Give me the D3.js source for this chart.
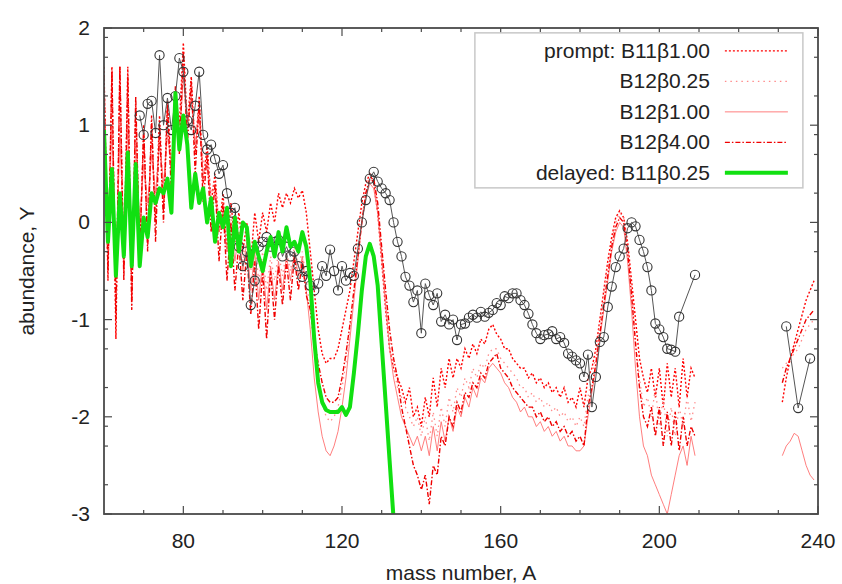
<!DOCTYPE html>
<html lang="en">

<head>
	<meta charset="UTF-8">
	<title>abundance vs mass number</title>
	<script src="https://cdn.jsdelivr.net/npm/d3@7"></script>
	<style>
		body { margin: 0; background: #fff; }
		text { font-family: "Liberation Sans", Arial, sans-serif; fill: #222; }
	</style>
</head>

<body>
	<svg id="viz"></svg>

	<script>
		// Data ---
		const modelStart = 60;   // A of the first entry of every model array
		const tailStart = 231;   // A of the first entry of the tail arrays
		const xTickLabels = [80, 120, 160, 200, 240];
		const yTickLabels = [-3, -2, -1, 0, 1, 2];

		const promptB11b100 = [
			1.6, -0.6, 1.6, -1.2, 1.6, -0.5, 1.6, -0.8, 1.2, -0.3,
			0.9, -0.2, 1.0, 0.0, 1.1, 0.1, 1.25, 0.5, 1.3, 1.0,
			1.85, 1.0, 1.5, 0.7, 1.3, 0.4, 0.8, 0.2, 0.5, -0.1,
			0.3, -0.3, 0.2, -0.2, 0.1, -0.3, 0.0, -0.4, 0.1, -0.2,
			0.1, -0.1, 0.2, 0.0, 0.3, 0.15, 0.3, 0.2, 0.35, 0.25,
			0.33, 0.1, -0.3, -0.7, -1.1, -1.35, -1.45, -1.4, -1.4, -1.3,
			-1.1, -0.9, -0.7, -0.4, -0.1, 0.2, 0.4, 0.5, 0.4, 0.1,
			-0.4, -0.9, -1.3, -1.5, -1.6, -1.7, -1.85, -1.7, -2.0, -1.9,
			-2.1, -1.8, -2.0, -1.6, -1.9, -1.5, -1.7, -1.4, -1.6, -1.4,
			-1.5, -1.3, -1.4, -1.25, -1.35, -1.2, -1.25, -1.1, -1.05, -1.15,
			-1.2, -1.3, -1.3, -1.4, -1.45, -1.5, -1.5, -1.6, -1.55, -1.65,
			-1.6, -1.7, -1.65, -1.75, -1.7, -1.8, -1.7, -1.85, -1.8, -1.9,
			-1.7, -1.9, -1.6, -1.5, -1.3, -1.0, -0.7, -0.4, -0.15, 0.05,
			0.12, 0.05, -0.2, -0.6, -1.0, -1.4, -1.6, -1.75, -1.5, -1.8,
			-1.5, -1.9, -1.45, -1.8, -1.5, -1.9, -1.4, -1.8, -1.5, -1.6
		];
		const promptB12b025 = [
			1.2, -0.3, 1.3, -0.8, 1.2, -0.4, 1.3, -0.5, 1.0, -0.2,
			0.7, 0.1, 0.8, 0.2, 0.9, 0.3, 1.0, 0.6, 1.2, 0.9,
			1.6, 1.1, 1.4, 0.9, 1.2, 0.6, 0.7, 0.3, 0.4, 0.0,
			0.2, -0.2, 0.1, -0.3, 0.0, -0.4, -0.1, -0.5, -0.2, -0.6,
			-0.3, -0.7, -0.35, -0.6, -0.3, -0.55, -0.3, -0.5, -0.25, -0.45,
			-0.3, -0.6, -0.9, -1.3, -1.6, -1.85, -2.0, -2.05, -2.0, -1.9,
			-1.7, -1.45, -1.1, -0.7, -0.3, 0.05, 0.3, 0.45, 0.4, 0.15,
			-0.3, -0.8, -1.2, -1.5, -1.7, -1.8, -1.9, -2.0, -2.1, -2.0,
			-2.2, -2.0, -2.25, -1.95, -2.2, -1.9, -2.1, -1.8, -1.95, -1.7,
			-1.8, -1.6, -1.7, -1.5, -1.6, -1.45, -1.5, -1.35, -1.3, -1.3,
			-1.4, -1.45, -1.5, -1.55, -1.6, -1.7, -1.7, -1.8, -1.75, -1.85,
			-1.8, -1.9, -1.85, -1.95, -1.9, -2.0, -1.95, -2.05, -2.0, -2.1,
			-2.0, -2.1, -1.8, -1.6, -1.35, -1.05, -0.75, -0.45, -0.2, 0.0,
			0.1, 0.05, -0.3, -0.7, -1.2, -1.6, -1.9, -1.8, -2.0, -1.7,
			-2.1, -1.8, -2.2, -1.9, -2.2, -1.9, -2.1, -1.8, -2.05, -1.85
		];
		const promptB12b100 = [
			0.8, -0.2, 1.0, -0.6, 0.9, -0.2, 1.0, -0.3, 0.8, 0.0,
			0.6, 0.2, 0.7, 0.3, 0.8, 0.4, 0.9, 0.6, 1.1, 0.8,
			1.5, 1.0, 1.3, 0.8, 1.1, 0.5, 0.6, 0.2, 0.3, -0.1,
			0.1, -0.3, 0.0, -0.4, -0.1, -0.5, -0.2, -0.7, -0.3, -0.8,
			-0.4, -0.9, -0.45, -0.8, -0.4, -0.7, -0.35, -0.6, -0.3, -0.55,
			-0.35, -0.7, -1.1, -1.6, -1.95, -2.2, -2.35, -2.4, -2.3, -2.15,
			-1.9, -1.6, -1.2, -0.8, -0.4, 0.0, 0.25, 0.4, 0.35, 0.1,
			-0.35, -0.85, -1.3, -1.6, -1.8, -2.0, -2.1, -2.2, -2.3, -2.2,
			-2.35, -2.2, -2.4, -2.1, -2.35, -2.05, -2.25, -2.0, -2.15, -1.9,
			-2.0, -1.8, -1.9, -1.7, -1.8, -1.6, -1.65, -1.5, -1.45, -1.5,
			-1.55, -1.65, -1.7, -1.8, -1.85, -1.95, -1.9, -2.0, -2.0, -2.1,
			-2.05, -2.15, -2.1, -2.2, -2.15, -2.25, -2.2, -2.3, -2.3, -2.35,
			-2.35, -2.3, -2.0, -1.75, -1.5, -1.2, -0.9, -0.6, -0.3, -0.1,
			0.0, -0.05, -0.4, -0.9, -1.5, -2.0, -2.3, -2.4, -2.6, -2.7,
			-2.8, -2.9, -3.0, -2.8, -2.6, -2.4, -2.3, -2.5, -2.2, -2.4
		];
		const promptB12b400 = [
			1.5, -0.5, 1.55, -1.0, 1.6, -0.6, 1.5, -0.9, 1.3, -0.4,
			1.0, -0.3, 1.1, -0.2, 1.0, 0.0, 1.2, 0.3, 1.4, 0.7,
			1.75, 0.8, 1.45, 0.5, 1.25, 0.2, 0.7, -0.1, 0.4, -0.4,
			0.2, -0.6, 0.0, -0.7, -0.2, -0.8, -0.3, -0.95, -0.4, -1.1,
			-0.5, -1.2, -0.5, -1.0, -0.45, -0.85, -0.4, -0.8, -0.35, -0.7,
			-0.4, -0.75, -0.9, -1.2, -1.45, -1.65, -1.8, -1.85, -1.85, -1.8,
			-1.6, -1.35, -1.05, -0.7, -0.35, 0.0, 0.3, 0.45, 0.45, 0.2,
			-0.25, -0.7, -1.1, -1.4, -1.6, -1.9, -2.1, -2.3, -2.5, -2.6,
			-2.75, -2.6, -2.9, -2.5, -2.6, -2.2, -2.3, -2.0, -2.1, -1.85,
			-1.95, -1.75, -1.8, -1.65, -1.7, -1.55, -1.6, -1.45, -1.4, -1.35,
			-1.5, -1.55, -1.6, -1.7, -1.75, -1.8, -1.85, -1.9, -1.9, -2.0,
			-1.95, -2.05, -2.0, -2.1, -2.05, -2.15, -2.1, -2.2, -2.15, -2.25,
			-2.2, -2.3, -1.9, -1.7, -1.45, -1.15, -0.85, -0.55, -0.25, -0.05,
			0.05, 0.0, -0.3, -0.75, -1.25, -1.7, -2.0, -2.1, -1.9, -2.2,
			-1.9, -2.3, -1.95, -2.3, -1.95, -2.35, -2.0, -2.3, -2.1, -2.2
		];
		// heavy tail A = 231..239
		const tailB11b100 = [-1.85, -1.6, -1.4, -1.25, -1.1, -0.95, -0.8, -0.7, -0.6];
		const tailB12b025 = [-1.5, -1.45, -1.4, -1.35, -1.3, -1.2, -1.1, -1.05, -1.0];
		const tailB12b100 = [-2.4, -2.3, -2.25, -2.17, -2.2, -2.35, -2.5, -2.6, -2.65];
		const tailB12b400 = [-1.65, -1.5, -1.4, -1.3, -1.2, -1.1, -1.0, -0.95, -0.9];

		// delayed B11b0.25, A = 60..133
		const delayedB11b025 = [
			0.95, -0.2, 0.55, -0.55, 0.3, -0.35, 0.72, -0.45, 0.6, -0.45,
			0.05, -0.15, 0.3, 0.2, 0.35, 0.3, 0.45, 0.1, 1.33, 0.75,
			1.1, 0.8, 0.15, 0.5, 0.2, 0.35, 0.0, 0.25, -0.2, 0.1,
			-0.05, 0.15, -0.45, 0.05, -0.3, 0.0, -0.05, -0.45, -0.2, -0.35,
			-0.5, -0.3, -0.15, -0.35, -0.1, -0.3, -0.05, -0.25, -0.2, -0.3,
			-0.1, -0.25, -0.6, -1.2, -1.65, -1.85, -1.93, -1.95, -1.95, -1.95,
			-1.9, -1.98, -1.9, -1.55, -1.15, -0.7, -0.35, -0.22, -0.35, -0.65,
			-1.25, -1.85, -2.45, -3.05
		];

		// observed abundances, A = 69..205, then a few separate points
		const obsStart = 69;
		const obsMain = [
			1.10, 0.90, 1.22, 1.25, 0.92, 1.72, 1.00, 1.28, 0.95, 1.30,
			1.69, 1.55, 1.05, 0.95, 1.20, 1.55, 0.90, 0.75, 0.80, 0.65,
			0.50, 0.59, 0.30, 0.10, 0.15, -0.25, -0.45, -0.30, -0.85, -0.60,
			-0.25, -0.20, -0.15, -0.25, -0.20, -0.18, -0.35, -0.25, -0.35, -0.30,
			-0.45, -0.56, -0.50, -0.65, -0.70, -0.63, -0.45, -0.55, -0.28, -0.50,
			-0.70, -0.45, -0.60, -0.52, -0.55, -0.27, 0.00, 0.23, 0.45, 0.52,
			0.42, 0.35, 0.30, 0.23, 0.00, -0.20, -0.35, -0.56, -0.65, -0.82,
			-0.70, -1.14, -0.63, -0.75, -0.85, -0.73, -1.02, -0.95, -1.05, -1.00,
			-1.21, -1.05, -1.04, -0.98, -0.95, -0.98, -0.92, -0.97, -0.93, -0.90,
			-0.83, -0.85, -0.76, -0.78, -0.73, -0.73, -0.80, -0.85, -0.94, -1.05,
			-1.14, -1.20, -1.16, -1.15, -1.12, -1.20, -1.18, -1.24, -1.35, -1.38,
			-1.42, -1.45, -1.59, -1.36, -1.90, -1.59, -1.23, -1.18, -0.87, -0.66,
			-0.46, -0.35, -0.27, -0.06, 0.00, -0.04, -0.18, -0.30, -0.46, -0.70,
			-1.04, -1.10, -1.18, -1.30, -1.31, -1.33, -0.97
		];
		const obsExtraMass = [209, null, 232, 235, 238];
		const obsExtraAbund = [-0.54, null, -1.07, -1.91, -1.40];

		const legendLabels = ['prompt: B11β1.00', 'B12β0.25', 'B12β1.00', 'B12β4.00', 'delayed: B11β0.25'];

		// Chart container dimensions ---
		const svgWidth = 842, svgHeight = 584;
		const margin = { top: 28, right: 24, bottom: 70, left: 104 };
		const plotW = svgWidth - margin.left - margin.right;
		const plotH = svgHeight - margin.top - margin.bottom;

		// Styles ---
		const seriesStyles = [
			{ color: '#ff0000', width: 1.4, dash: '2,2' },
			{ color: '#ff8c8c', width: 1.3, dash: '1.5,4' },
			{ color: '#ff6f6f', width: 0.9, dash: null },
			{ color: '#f00000', width: 1.4, dash: '5,2,1.5,2' },
			{ color: '#11e011', width: 4, dash: null }
		];
		const frameColor = '#4a4a4a';

		// Helpers ---
		function toPoints(values, start) {
			return values.map((v, i) => ({ a: start + i, y: v }));
		}
		function withTail(values, tail) {
			return toPoints(values, modelStart).concat([{ a: null, y: null }], toPoints(tail, tailStart));
		}

		const redSeries = [
			withTail(promptB11b100, tailB11b100),
			withTail(promptB12b025, tailB12b025),
			withTail(promptB12b100, tailB12b100),
			withTail(promptB12b400, tailB12b400)
		];
		const greenSeries = toPoints(delayedB11b025, modelStart);
		const obsPoints = toPoints(obsMain, obsStart)
			.concat(obsExtraMass.map((a, i) => ({ a: a, y: obsExtraAbund[i] })));

		// Main SVG container ---
		const svg = d3.select('#viz')
			.attr('width', svgWidth)
			.attr('height', svgHeight);

		svg.append('rect')
			.attr('width', svgWidth).attr('height', svgHeight)
			.attr('fill', '#fff');

		const g = svg.append('g')
			.attr('transform', `translate(${margin.left},${margin.top})`);

		// Scales ---
		const x = d3.scaleLinear().domain([60, 240]).range([0, plotW]);
		const y = d3.scaleLinear().domain([-3, 2]).range([plotH, 0]);

		g.append('clipPath').attr('id', 'plotClip')
			.append('rect').attr('width', plotW).attr('height', plotH);

		const line = d3.line()
			.defined(d => d.y != null)
			.x(d => x(d.a))
			.y(d => y(d.y));

		const dataLayer = g.append('g').attr('clip-path', 'url(#plotClip)');

		// Red model curves ---
		dataLayer.selectAll('path.model')
			.data(redSeries)
			.join('path')
			.attr('class', 'model')
			.attr('d', line)
			.attr('fill', 'none')
			.attr('stroke', (d, i) => seriesStyles[i].color)
			.attr('stroke-width', (d, i) => seriesStyles[i].width)
			.attr('stroke-dasharray', (d, i) => seriesStyles[i].dash);

		// Observed (line + open circles) ---
		dataLayer.append('path')
			.attr('d', line(obsPoints))
			.attr('fill', 'none')
			.attr('stroke', '#555')
			.attr('stroke-width', 1);

		dataLayer.selectAll('circle.obs')
			.data(obsPoints.filter(d => d.y != null))
			.join('circle')
			.attr('class', 'obs')
			.attr('cx', d => x(d.a))
			.attr('cy', d => y(d.y))
			.attr('r', 4.6)
			.attr('fill', 'none')
			.attr('stroke', '#333')
			.attr('stroke-width', 1.1);

		// Green delayed curve ---
		dataLayer.append('path')
			.attr('d', line(greenSeries))
			.attr('fill', 'none')
			.attr('stroke', seriesStyles[4].color)
			.attr('stroke-width', seriesStyles[4].width)
			.attr('stroke-linejoin', 'round');

		// Ticks ---
		const xMinor = d3.range(70, 240, 10).filter(v => !xTickLabels.includes(v));
		const yMinor = [];
		yTickLabels.slice(0, -1).forEach(d => {
			[2, 5, 8].forEach(k => yMinor.push(d + Math.log10(k)));
		});

		const tickLayer = g.append('g')
			.attr('stroke', frameColor)
			.attr('stroke-width', 1.2);

		function xTicks(values, len) {
			values.forEach(v => {
				tickLayer.append('line').attr('x1', x(v)).attr('x2', x(v)).attr('y1', plotH).attr('y2', plotH - len);
				tickLayer.append('line').attr('x1', x(v)).attr('x2', x(v)).attr('y1', 0).attr('y2', len);
			});
		}
		function yTicks(values, len) {
			values.forEach(v => {
				tickLayer.append('line').attr('y1', y(v)).attr('y2', y(v)).attr('x1', 0).attr('x2', len);
				tickLayer.append('line').attr('y1', y(v)).attr('y2', y(v)).attr('x1', plotW).attr('x2', plotW - len);
			});
		}
		xTicks(xTickLabels, 8);
		xTicks(xMinor, 4);
		yTicks(yTickLabels, 8);
		yTicks(yMinor, 4);

		// Frame ---
		g.append('rect')
			.attr('width', plotW).attr('height', plotH)
			.attr('fill', 'none')
			.attr('stroke', frameColor)
			.attr('stroke-width', 1.8);

		// Tick labels ---
		g.selectAll('text.xlab')
			.data(xTickLabels)
			.join('text')
			.attr('class', 'xlab')
			.attr('x', d => x(d))
			.attr('y', plotH + 34)
			.attr('text-anchor', 'middle')
			.style('font-size', '21px')
			.text(d => d);

		g.selectAll('text.ylab')
			.data(yTickLabels)
			.join('text')
			.attr('class', 'ylab')
			.attr('x', -14)
			.attr('y', d => y(d) + 7)
			.attr('text-anchor', 'end')
			.style('font-size', '21px')
			.text(d => d);

		// Axis titles ---
		g.append('text')
			.attr('x', plotW / 2)
			.attr('y', plotH + 66)
			.attr('text-anchor', 'middle')
			.style('font-size', '21px')
			.text('mass number, A');

		g.append('text')
			.attr('transform', `translate(${-70},${plotH / 2}) rotate(-90)`)
			.attr('text-anchor', 'middle')
			.style('font-size', '21px')
			.text('abundance, Y');

		// Legend ---
		const legend = g.append('g')
			.attr('transform', `translate(${x(153.5)},${y(1.95)})`);
		legend.append('rect')
			.attr('width', 328).attr('height', 155)
			.attr('fill', '#fff')
			.attr('stroke', '#c8c8c8')
			.attr('stroke-width', 1.5);
		const rows = legend.selectAll('g.row')
			.data(legendLabels)
			.join('g')
			.attr('class', 'row')
			.attr('transform', (d, i) => `translate(0,${18 + i * 30.5})`);
		rows.append('text')
			.attr('x', 235)
			.attr('y', 7)
			.attr('text-anchor', 'end')
			.style('font-size', '21px')
			.text(d => d);
		rows.append('line')
			.attr('x1', 250).attr('x2', 313)
			.attr('stroke', (d, i) => seriesStyles[i].color)
			.attr('stroke-width', (d, i) => seriesStyles[i].width)
			.attr('stroke-dasharray', (d, i) => seriesStyles[i].dash);
	</script>
</body>

</html>
